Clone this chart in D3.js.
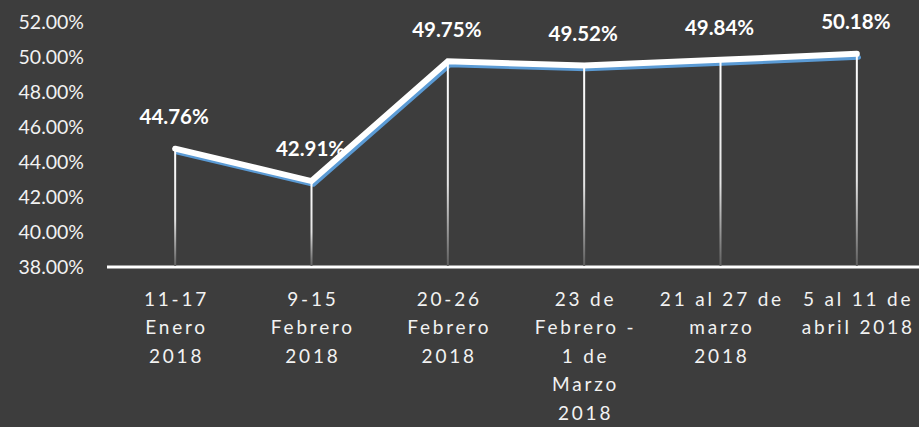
<!DOCTYPE html>
<html lang="es">
<head>
    <meta charset="utf-8" />
    <title>Porcentaje semanal</title>
    <script src="https://d3js.org/d3.v7.min.js"></script>
    <style>
        body { margin: 0; background: #3d3d3d; }
        svg { display: block; }
    </style>
</head>
<body>
<script>
    var w = 919;
    var h = 427;

    // categories (each one split in the lines that appear under the axis)
    var categories = ["c1", "c2", "c3", "c4", "c5", "c6"];
    var categoryLines = [
        ["11-17", "Enero", "2018"],
        ["9-15", "Febrero", "2018"],
        ["20-26", "Febrero", "2018"],
        ["23 de", "Febrero -", "1 de", "Marzo", "2018"],
        ["21 al 27 de", "marzo", "2018"],
        ["5 al 11 de", "abril 2018"]
    ];
    // white series (labelled) and the blue one drawn under it
    var whiteValues = [44.76, 42.91, 49.75, 49.52, 49.84, 50.18];
    var blueValues = [44.56, 42.71, 49.54, 49.31, 49.63, 49.97];
    var yTicks = [38, 40, 42, 44, 46, 48, 50, 52];

    var axisY = 267;
    var plotLeft = 107;

    var xScale = d3.scaleBand()
        .domain(categories)
        .range([plotLeft, 925]);

    var yScale = d3.scaleLinear()
        .domain([38, 52])
        .range([axisY, 22]);

    function cx(i) {
        return xScale(categories[i]) + xScale.bandwidth() / 2;
    }

    var svg = d3.select("body")
        .append("svg")
        .attr("width", w)
        .attr("height", h);

    svg.append("rect")
        .attr("width", w)
        .attr("height", h)
        .attr("fill", "#3d3d3d");

    // gradient for the drop lines (white at top, fading down)
    var grad = svg.append("defs")
        .append("linearGradient")
        .attr("id", "drop")
        .attr("x1", 0).attr("y1", 0)
        .attr("x2", 0).attr("y2", 1);
    grad.append("stop").attr("offset", "0%").attr("stop-color", "#ffffff");
    grad.append("stop").attr("offset", "60%").attr("stop-color", "#e4e4e4");
    grad.append("stop").attr("offset", "100%").attr("stop-color", "#5e5e5e");

    // y tick labels
    svg.selectAll("text.ytick")
        .data(yTicks)
        .enter()
        .append("text")
        .attr("class", "ytick")
        .attr("x", 84)
        .attr("y", function(d) { return yScale(d); })
        .attr("dy", "0.35em")
        .attr("text-anchor", "end")
        .attr("font-family", "Lato, sans-serif")
        .attr("font-size", "19.5px")
        .attr("fill", "#f2f2f2")
        .text(function(d) { return d.toFixed(2) + "%"; });

    // horizontal axis line
    svg.append("line")
        .attr("x1", plotLeft)
        .attr("x2", w)
        .attr("y1", axisY)
        .attr("y2", axisY)
        .attr("stroke", "#ffffff")
        .attr("stroke-width", 3);

    var line = d3.line()
        .x(function(d, i) { return cx(i); })
        .y(function(d) { return yScale(d); });

    // blue series
    svg.append("path")
        .datum(blueValues)
        .attr("d", line)
        .attr("transform", "translate(2,0)")
        .attr("fill", "none")
        .attr("stroke", "#5b9bd5")
        .attr("stroke-width", 4.5)
        .attr("stroke-linecap", "round")
        .attr("stroke-linejoin", "round");

    // drop lines
    svg.selectAll("rect.drop")
        .data(whiteValues)
        .enter()
        .append("rect")
        .attr("class", "drop")
        .attr("x", function(d, i) { return cx(i) - 1; })
        .attr("y", function(d) { return yScale(d); })
        .attr("width", 2)
        .attr("height", function(d) { return axisY - 1 - yScale(d); })
        .attr("fill", "url(#drop)");

    // white series
    svg.append("path")
        .datum(whiteValues)
        .attr("d", line)
        .attr("fill", "none")
        .attr("stroke", "#ffffff")
        .attr("stroke-width", 6)
        .attr("stroke-linecap", "round")
        .attr("stroke-linejoin", "miter");

    // data labels
    svg.selectAll("text.lbl")
        .data(whiteValues)
        .enter()
        .append("text")
        .attr("class", "lbl")
        .attr("x", function(d, i) { return cx(i) - 1; })
        .attr("y", function(d) { return yScale(d) - 32; })
        .attr("dy", "0.35em")
        .attr("text-anchor", "middle")
        .attr("font-family", "Lato, sans-serif")
        .attr("font-weight", "bold")
        .attr("font-size", "20.5px")
        .attr("fill", "#ffffff")
        .text(function(d) { return d.toFixed(2) + "%"; });

    // category labels
    var cat = svg.selectAll("text.cat")
        .data(categoryLines)
        .enter()
        .append("text")
        .attr("class", "cat")
        .attr("text-anchor", "middle")
        .attr("font-family", "Lato, sans-serif")
        .attr("font-size", "19px")
        .attr("letter-spacing", "2.8px")
        .attr("fill", "#f2f2f2");

    cat.each(function(lines, i) {
        d3.select(this).selectAll("tspan")
            .data(lines)
            .enter()
            .append("tspan")
            .attr("x", cx(i) + 1.4)
            .attr("y", function(d, j) { return 299 + j * 28.6; })
            .attr("dy", "0.35em")
            .text(function(d) { return d; });
    });
</script>
</body>
</html>
